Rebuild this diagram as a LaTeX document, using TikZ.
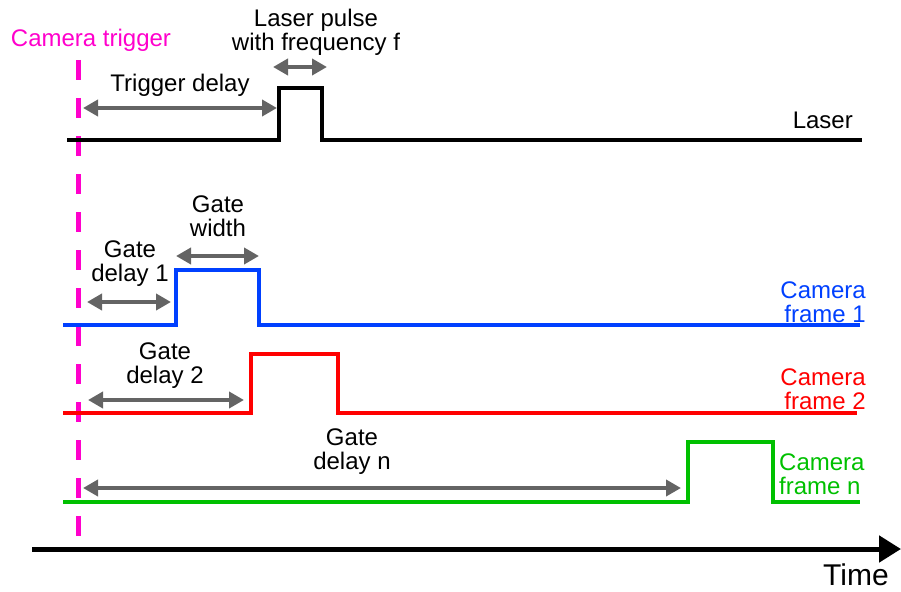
\documentclass[tikz,border=0pt]{standalone}
\usepackage{fontspec}
\setmainfont{Liberation Sans}
\usepackage{xcolor}
\usetikzlibrary{arrows.meta,positioning}

\definecolor{trigpink}{RGB}{255,0,204}
\definecolor{frameblue}{RGB}{0,64,255}
\definecolor{framered}{RGB}{255,0,0}
\definecolor{framegreen}{RGB}{0,192,0}
\definecolor{spangray}{RGB}{100,100,100}

\tikzset{
  lbl/.style={font=\fontsize{24}{24}\selectfont,align=center,inner sep=0pt},
  span/.style={{Triangle[length=15pt,width=16pt]}-{Triangle[length=15pt,width=16pt]},draw=spangray,line width=4pt},
  signal/.style={line width=3.5pt,line join=miter}
}

\begin{document}
\begin{tikzpicture}[x=1pt,y=-1pt]
    \useasboundingbox (0,0) rectangle (901,591);
    % camera trigger
    \draw[trigpink,line width=5pt,dash pattern=on 20pt off 18pt] (78,60) -- (78,540);
    \node[lbl,text=trigpink] (trig) at (91,40) {Camera trigger};
    % laser
    \coordinate (l0) at (67,140);
    \coordinate (l1) at (279,88);
    \coordinate (l2) at (322,88);
    \coordinate (l3) at (862,140);
    \draw[signal,black] (l0) -| (l1) -- (l2) |- (l3);
    \node[lbl,anchor=east] (laser) at (853,120) {Laser};
    \node[lbl] (pulse) at (316,32) {Laser pulse\\with frequency f};
    \coordinate (p0) at (273,67);
    \coordinate (p1) at (327,67);
    \draw[span] (p0) -- (p1);
    \node[lbl] (tdelay) at (180,85) {Trigger delay};
    \coordinate (t0) at (83,108);
    \coordinate (t1) at (277,108);
    \draw[span] (t0) -- (t1);
    % camera frame 1
    \coordinate (a0) at (63,325);
    \coordinate (a1) at (176,270);
    \coordinate (a2) at (259,270);
    \coordinate (a3) at (860,325);
    \draw[signal,frameblue] (a0) -| (a1) -- (a2) |- (a3);
    \node[lbl,align=right,anchor=east,text=frameblue] (fr1) at (866,302) {Camera\\frame 1};
    \node[lbl] (gwidth) at (218,216) {Gate\\width};
    \coordinate (w0) at (176,256);
    \coordinate (w1) at (259,256);
    \draw[span] (w0) -- (w1);
    \node[lbl] (gd1) at (130,264) {Gate\\delay 1};
    \coordinate (d10) at (87,302);
    \coordinate (d11) at (171,302);
    \draw[span] (d10) -- (d11);
    % camera frame 2
    \coordinate (b0) at (63,413);
    \coordinate (b1) at (251,354);
    \coordinate (b2) at (338,354);
    \coordinate (b3) at (857,413);
    \draw[signal,framered] (b0) -| (b1) -- (b2) |- (b3);
    \node[lbl,align=right,anchor=east,text=framered] (fr2) at (866,389) {Camera\\frame 2};
    \node[lbl] (gd2) at (165,366) {Gate\\delay 2};
    \coordinate (d20) at (88,400);
    \coordinate (d21) at (244,400);
    \draw[span] (d20) -- (d21);
    % camera frame n
    \coordinate (c0) at (63,502);
    \coordinate (c1) at (688,442);
    \coordinate (c2) at (773,442);
    \coordinate (c3) at (860,502);
    \draw[signal,framegreen] (c0) -| (c1) -- (c2) |- (c3);
    \node[lbl,align=left,anchor=west,text=framegreen] (frn) at (779,474) {Camera\\frame n};
    \node[lbl] (gdn) at (352,452) {Gate\\delay n};
    \coordinate (dn0) at (83,488);
    \coordinate (dn1) at (681,488);
    \draw[span] (dn0) -- (dn1);
    % time axis
    \coordinate (ax0) at (32,549);
    \coordinate (ax1) at (901,549);
    \draw[line width=5pt,-{Triangle[length=22pt,width=26pt]}] (ax0) -- (ax1);
    \node[font=\fontsize{30}{34}\selectfont,inner sep=0pt] (time) at (856,575) {Time};
\end{tikzpicture}
\end{document}
